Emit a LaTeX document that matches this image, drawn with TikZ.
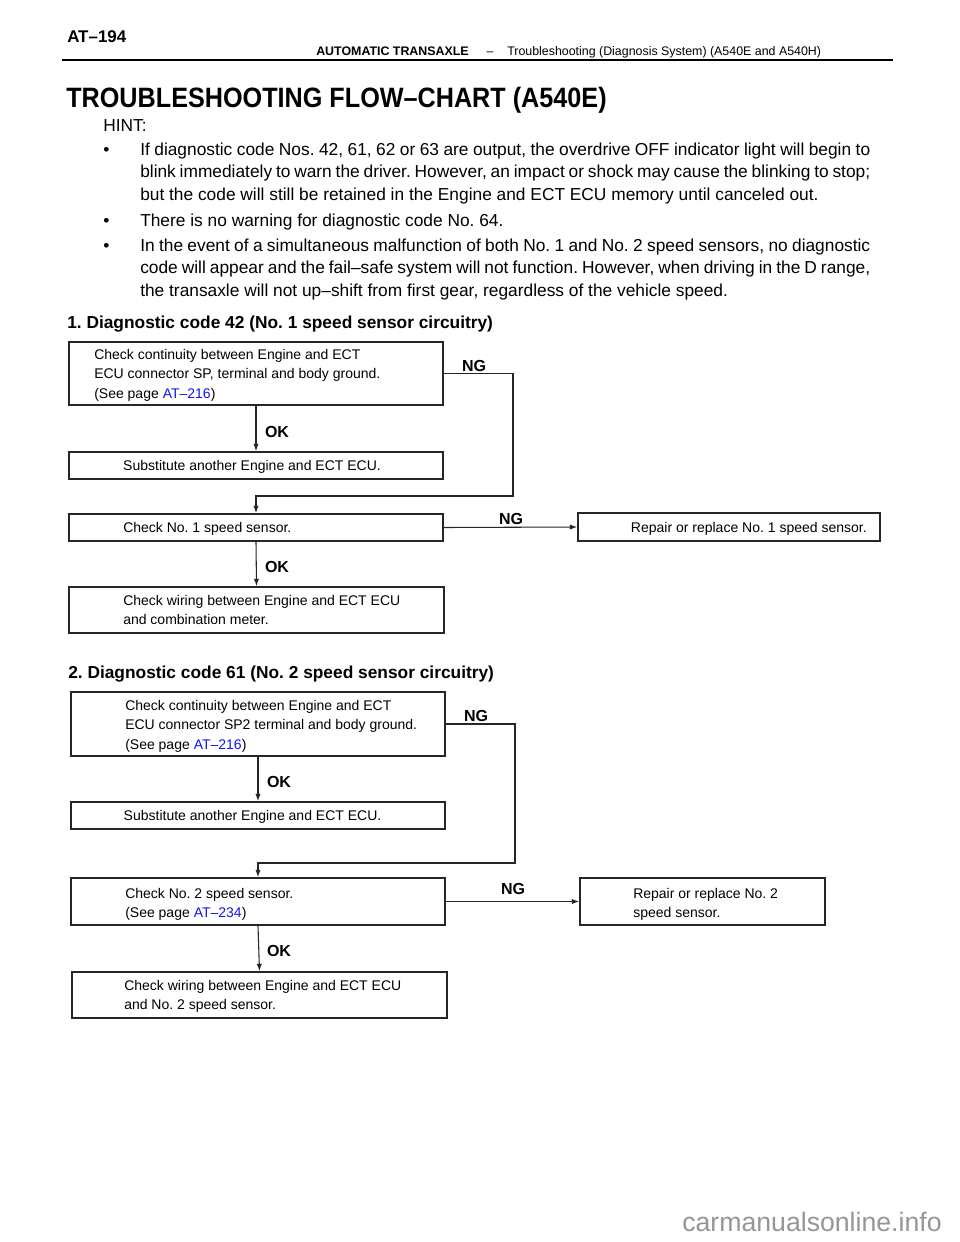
\documentclass[tikz,border=0pt]{standalone}
\usepackage{fontspec}
\setmainfont{Liberation Sans}
\usetikzlibrary{arrows.meta}
\definecolor{linkblue}{RGB}{20,20,240}
\definecolor{wmgray}{RGB}{150,150,150}
\newcommand{\fullline}[1]{\makebox[547.5pt][s]{#1}}
\begin{document}
\frenchspacing
\begin{tikzpicture}[x=0.75pt,y=-0.75pt,
  box/.style={draw=black!85, line width=1.3pt, inner sep=0pt},
  txt/.style={inner sep=0pt, align=left, font=\fontsize{10.5}{14.6}\selectfont},
  body/.style={inner sep=0pt, anchor=base west, font=\fontsize{13}{16.9}\selectfont},
  head/.style={inner sep=0pt, anchor=base west, font=\bfseries\fontsize{13}{16}\selectfont},
  lab/.style={font=\bfseries\fontsize{12}{12}\selectfont, inner sep=0pt},
  arr/.style={draw=black!85, line width=0.8pt, -{Latex[length=5.5pt,width=4pt]}},
  ]
\useasboundingbox[fill=white] (0,0) rectangle (960,1242);

% ---------- page header ----------
\node[inner sep=0pt, anchor=base west, font=\bfseries\fontsize{12.7}{14}\selectfont] (pg) at (67,42) {AT–194};
\node[inner sep=0pt, anchor=base west, font=\bfseries\fontsize{9.3}{11}\selectfont] (sec) at (316,55.5) {AUTOMATIC TRANSAXLE};
\node[inner sep=0pt, anchor=base, font=\fontsize{9.3}{11}\selectfont] (dash) at (490,55.5) {–};
\node[inner sep=0pt, anchor=base west, font=\fontsize{9.3}{11}\selectfont] (sub) at (507,55.5) {Troubleshooting (Diagnosis System) (A540E and A540H)};
\draw[line width=1.4pt] (62,60) -- (893,60);

% ---------- title ----------
\node[inner sep=0pt, anchor=base west, font=\bfseries\fontsize{21}{24}\selectfont] (title) at (66,107)
  {\scalebox{0.9}[1]{TROUBLESHOOTING FLOW–CHART (A540E)}};

% ---------- hint ----------
\node[body] (hint) at (103,131) {HINT:};
\node[body] (b1) at (103,155) {\textbullet};
\node[body] (p1a) at (140,155) {\fullline{If diagnostic code Nos. 42, 61, 62 or 63 are output, the overdrive OFF indicator light will begin to}};
\node[body] (p1b) at (140,177.5) {\fullline{blink immediately to warn the driver. However, an impact or shock may cause the blinking to stop;}};
\node[body] (p1c) at (140,200) {but the code will still be retained in the Engine and ECT ECU memory until canceled out.};
\node[body] (b2) at (103,226) {\textbullet};
\node[body] (p2a) at (140,226) {There is no warning for diagnostic code No. 64.};
\node[body] (b3) at (103,251) {\textbullet};
\node[body] (p3a) at (140,251) {\fullline{In the event of a simultaneous malfunction of both No. 1 and No. 2 speed sensors, no diagnostic}};
\node[body] (p3b) at (140,273.5) {\fullline{code will appear and the fail–safe system will not function. However, when driving in the D range,}};
\node[body] (p3c) at (140,296) {the transaxle will not up–shift from first gear, regardless of the vehicle speed.};

% ---------- section 1 ----------
\node[head] (h1) at (67,328) {1. Diagnostic code 42 (No. 1 speed sensor circuitry)};

\node[box, minimum width=280.5pt, minimum height=47.25pt] (A) at (256,373.5) {};
\node[txt, anchor=north west] (At) at (94,349) {Check continuity between Engine and ECT\\ECU connector SP, terminal and body ground.\\(See page \textcolor{linkblue}{AT–216})};
\node[box, minimum width=280.5pt, minimum height=20.25pt] (B) at (256,465.5) {};
\node[txt, anchor=base] (Bt) at (252,470.5) {Substitute another Engine and ECT ECU.};
\node[box, minimum width=280.5pt, minimum height=20.25pt] (C) at (256,527.5) {};
\node[txt, anchor=base west] (Ct) at (123,532.5) {Check No. 1 speed sensor.};
\node[box, minimum width=226.5pt, minimum height=21pt] (D) at (729,527) {};
\node[txt, anchor=base east] (Dt) at (867,532) {Repair or replace No. 1 speed sensor.};
\node[box, minimum width=281.25pt, minimum height=34.5pt] (E) at (256.5,610) {};
\node[txt, anchor=north west] (Et) at (123,595) {Check wiring between Engine and ECT ECU\\and combination meter.};

\coordinate (n1) at (513,496);
\draw[arr] (A.east) -| (n1) -| (C.north);
\draw[arr] (A.south) -- (B.north);
\draw[arr] (C.east) -- (D.west);
\draw[arr] (C.south) -- (E.north);
\node[lab] (ng1) at (474,366) {NG};
\node[lab] (ok1) at (277,432) {OK};
\node[lab] (ng2) at (511,519) {NG};
\node[lab] (ok2) at (277,567) {OK};

% ---------- section 2 ----------
\node[head] (h2) at (68,678) {2. Diagnostic code 61 (No. 2 speed sensor circuitry)};

\node[box, minimum width=280.5pt, minimum height=48pt] (F) at (258,724) {};
\node[txt, anchor=north west] (Ft) at (125,700) {Check continuity between Engine and ECT\\ECU connector SP2 terminal and body ground.\\(See page \textcolor{linkblue}{AT–216})};
\node[box, minimum width=280.5pt, minimum height=20.25pt] (G) at (258,815.5) {};
\node[txt, anchor=base] (Gt) at (252.5,820.5) {Substitute another Engine and ECT ECU.};
\node[box, minimum width=280.5pt, minimum height=35.25pt] (H) at (258,901.5) {};
\node[txt, anchor=north west] (Ht) at (125,888) {Check No. 2 speed sensor.\\(See page \textcolor{linkblue}{AT–234})};
\node[box, minimum width=183.75pt, minimum height=35.25pt] (I) at (702.5,901.5) {};
\node[txt, anchor=north west] (It) at (633,888) {Repair or replace No. 2\\speed sensor.};
\node[box, minimum width=281.25pt, minimum height=34.5pt] (J) at (259.5,995) {};
\node[txt, anchor=north west] (Jt) at (124,980) {Check wiring between Engine and ECT ECU\\and No. 2 speed sensor.};

\coordinate (n2) at (515,863);
\draw[arr] (F.east) -| (n2) -| (H.north);
\draw[arr] (F.south) -- (G.north);
\draw[arr] (H.east) -- (I.west);
\draw[arr] (H.south) -- (J.north);
\node[lab] (ng3) at (476,716) {NG};
\node[lab] (ok3) at (279,782) {OK};
\node[lab] (ng4) at (513,889) {NG};
\node[lab] (ok4) at (279,951) {OK};

% ---------- watermark ----------
\node[inner sep=0pt, anchor=base west, text=wmgray, font=\fontsize{20}{22}\selectfont] (wm) at (682,1231) {carmanualsonline.info};
\end{tikzpicture}
\end{document}
